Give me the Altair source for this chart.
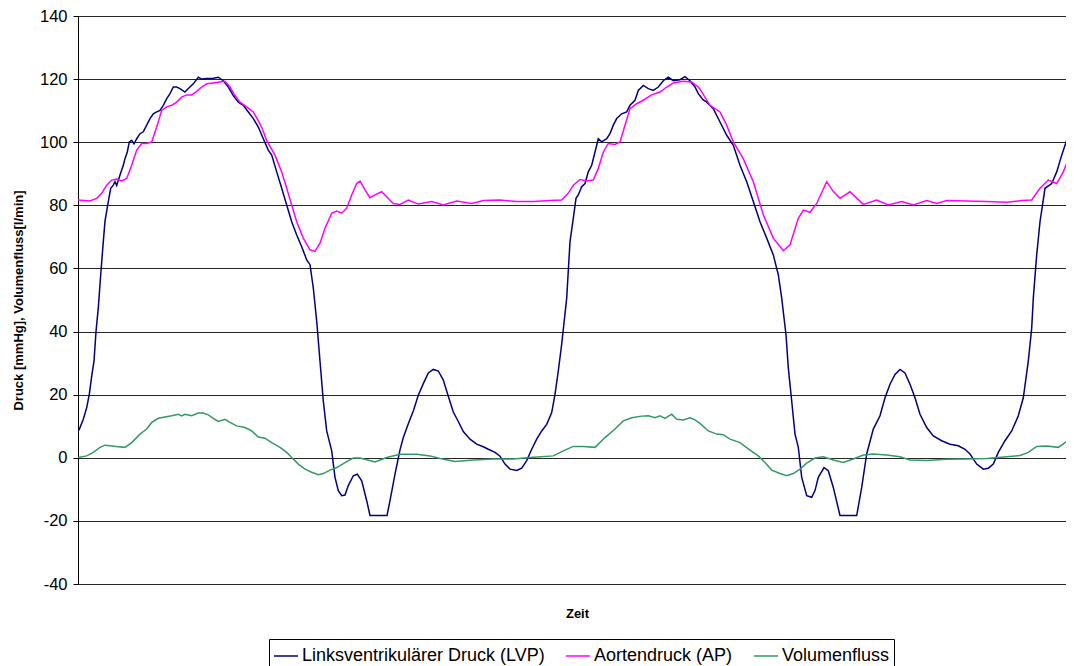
import altair as alt
import pandas as pd

# ---- data (sample index, value) ----
lvp_t = [78, 79.3, 83.3, 86.7, 89.3, 91.7, 94, 96, 98.3, 100.7, 103.3, 105, 108.3, 110.7, 113.3, 115, 116.7,
         120, 123.3, 125, 127.3, 129.3, 131.7, 134, 136.7, 140, 143.3, 146.7, 150, 153.3, 156.7, 160, 163.3,
         166.7, 170, 173.3, 176.7, 180, 185, 188.3, 193.3, 198.3, 201.7, 206.7, 213.3, 218.3, 223.3, 228.3,
         233.3, 238.3, 243.3, 248.3, 253.3, 258.3, 263.3, 268.3, 271.7, 276.7, 281.7, 286.7, 291.7, 296.7,
         301.7, 306.7, 310, 313.3, 316.7, 320, 323.3, 326.7, 331.7, 335, 338.3, 341.7, 345, 348.3, 353.3,
         357.3, 361.7, 366.7, 370, 387, 390, 395, 400, 403.3, 408.3, 413.3, 418.3, 423.3, 428.3, 433.3, 438.3,
         443.3, 448.3, 453.3, 458.3, 463.3, 470, 476.7, 483.3, 488.3, 495, 500, 505, 510, 516.7, 521.7, 526.7,
         531.7, 536.7, 541.7, 546.7, 551.7, 555, 558.3, 561.7, 566.7, 570, 573.3, 576, 578.3, 581.7, 585,
         588.3, 591.7, 595, 598.3, 601.7, 606.7, 610, 613.3, 616.7, 621.7, 626.7, 630, 635, 638.3, 643.3,
         648.3, 653.3, 658.3, 663.3, 668.3, 673.3, 680, 685, 690, 695, 698.3, 703, 706.7, 713.3, 720, 726.7,
         733.3, 740, 746.7, 753.3, 760, 766.7, 773.3, 778.3, 781.7, 786, 788.3, 791.7, 795, 798.3, 801.7,
         806.7, 811.7, 815, 818.3, 824, 828.3, 833.3, 840, 856.7, 861.7, 866.7, 873.3, 880, 885, 890, 895,
         900, 905, 910, 915, 920, 926.7, 933.3, 941.7, 950, 958.3, 965, 970, 976.7, 983.3, 988.3, 993.3,
         998.3, 1005, 1011.7, 1018.3, 1023.3, 1028.3, 1031.7, 1033.3, 1036.7, 1040, 1045, 1051.7, 1056.7,
         1061.7, 1066.7, 1071.7, 1074]
lvp_v = [8.5, 9.0, 12.2, 15.9, 20.1, 25.9, 30.6, 40, 47.5, 58, 68.5, 75, 81.2, 85.4, 86.4, 87.5, 86.3,
         89.6, 92.7, 94.8, 96.9, 100.1, 100.6, 99.5, 101.1, 102.7, 103.3, 105.4, 107.5, 109, 109.6, 110.1, 111.7,
         113.8, 115.4, 117.5, 117.5, 117, 115.9, 117, 118.5, 120.6, 120, 120.2, 120.3, 120.6, 119.5, 117.5,
         114.8, 112.7, 111.7, 109.6, 107.5, 104.8, 101.1, 97.5, 95.9, 90.6, 85.4, 80.1, 74.8, 70.6,
         66.9, 62.7, 61.2, 53.8, 43.3, 30.6, 18, 8.5, 2.2, -6.2, -10.4, -12, -11.8, -8.8, -5.7,
         -5.2, -7.3, -13.6, -18.3, -18.3, -13.6, -5.2, 2.5, 6.4, 10.8, 14.8, 19.8, 23.5, 26.9, 28, 27.5,
         24.6, 19.5, 14.5, 11.5, 8.3, 5.9, 4.3, 3.5, 2.7, 1.7, 0.5, -2, -3.6, -4, -3.3, -0.9,
         2.7, 5.9, 8.5, 10.6, 14.3, 20.1, 27.5, 36, 50.6, 68.5, 75.9, 82.2, 83.3, 85.9, 86.9,
         90.6, 92.7, 96.9, 101.1, 100.1, 101.1, 102.7, 105.4, 107.5, 109, 109.6, 111.7, 113.3, 116.4, 118,
         117, 116.4, 117.5, 119.5, 120.6, 119.5, 119.8, 120.8, 119.5, 117.5, 115.4, 113.5, 112.7, 110.6, 106.4, 102.2,
         99, 92.7, 87.5, 81.2, 74.8, 69.6, 64.3, 58, 50.6, 39, 28.5, 18, 7.5, 3.3, -6.2,
         -12, -12.5, -10.4, -6.2, -3.1, -4.1, -9.4, -18.3, -18.3, -9.4, 1.2, 9.1, 13.3, 19, 23.3, 26.4,
         28, 26.9, 23.3, 19, 13.8, 9.6, 6.9, 5.4, 4.3, 3.8, 2.7, 1.2, -2, -3.6, -3.3, -2,
         1.7, 5.4, 8.5, 13.3, 19, 30.6, 41.1, 50.6, 64.3, 74.8, 85.4, 86.9, 90.6,
         95.9, 100.6, 100.9, 101.1]

ap_t = [78, 90, 96.7, 101.7, 106.7, 111.7, 116.7, 121.7, 126.7, 131.7, 136.7, 141.7, 146.7, 151.7, 156.7,
        161.7, 166.7, 171.7, 176.7, 181.7, 186.7, 191.7, 196.7, 201.7, 206.7, 213.3, 220, 225, 230, 235, 240,
        246.7, 253.3, 258, 262, 266.7, 275, 281.7, 286.7, 291.7, 296.7, 303.3, 310, 315, 320, 325, 331.7,
        336.7, 341.7, 346.7, 351.7, 356.7, 360, 365, 370, 375, 381.7, 386.7, 393.3, 400, 408.3, 418.3, 431.7,
        443.3, 456.7, 471.7, 483.3, 500, 516.7, 533.3, 550, 561.7, 568.3, 573.3, 580, 586.7, 593.3, 598.3,
        603.3, 608.3, 615, 620, 625, 630, 636.7, 643.3, 651.7, 660, 666.7, 673.3, 683.3, 691.7, 698.3, 700,
        710, 720, 726.7, 733.3, 743.3, 753.3, 763.3, 773.3, 783.3, 790, 798.3, 803.3, 810, 816.7, 826.7,
        833, 840, 850, 863.3, 876.7, 888.3, 901.7, 913.3, 926.7, 936.7, 946.7, 966.7, 986.7, 1006.7, 1021.7,
        1031.7, 1040, 1048.3, 1056.7, 1063.3, 1070, 1074]
ap_v = [81.7, 81.4, 82.2, 83.8, 86.4, 88, 88.3, 87.7, 88.5, 92.7, 97.5, 99.6, 99.6, 100.1, 104.8,
        110.1, 111.2, 111.7, 112.7, 114.3, 115, 115, 116.1, 117.5, 118.5, 118.8, 119.1, 119.3, 117.5, 114.8, 112.7,
        111.2, 109.6, 107, 104.5, 100.5, 95.9, 90.6, 85.4, 80.1, 74.8, 69.6, 65.9, 65.4, 68, 72.7, 77.5,
        78.2, 77.5, 79.1, 83.3, 86.9, 87.7, 84.9, 82.4, 83.3, 84.3, 82.7, 80.6, 80.3, 81.7, 80.4, 81.2,
        80.1, 81.4, 80.6, 81.5, 81.7, 81.2, 81.2, 81.5, 81.7, 83.8, 86.4, 88.2, 87.7, 88, 91.7,
        96.9, 99.6, 99.3, 100.1, 105.4, 110.6, 112.2, 113.3, 115, 115.9, 117.5, 118.8, 119.3, 119.1, 117.5, 116.8,
        111.7, 109.6, 105.4, 100.1, 94.8, 87.5, 77, 69.6, 65.6, 67.5, 75.9, 78.5, 77.8, 80.6, 87.5,
        84.5, 82.2, 84.3, 80.3, 81.7, 80.1, 81.2, 80.1, 81.5, 80.6, 81.5, 81.4, 81.2, 81, 81.5,
        81.7, 85.4, 88, 86.9, 90.6, 95.9, 99]

flow_t = [78, 86.7, 93.3, 100, 105, 110, 118.3, 125, 131.7, 140, 146.7, 151.7, 158.3, 165, 171.7, 178.3,
          181.7, 185, 191.7, 198.3, 203.3, 208.3, 213.3, 218.3, 225, 230, 236.7, 245, 251.7, 258.3, 265,
          271.7, 280, 286.7, 291.7, 298.3, 305, 311.7, 318.3, 323.3, 330, 336.7, 346.7, 353.3, 360, 375,
          386.7, 400, 416.7, 430, 440, 455, 473.3, 493.3, 513.3, 530, 553.3, 563.3, 573.3, 583.3, 595, 605,
          615, 623.3, 631.7, 641.7, 648.3, 655, 660, 665, 671.7, 676.7, 683.3, 690, 695, 700, 708.3, 716.7,
          723.3, 730, 740, 750, 758.3, 765, 771.7, 780, 786.7, 793.3, 800, 806.7, 815, 823.3, 833.3, 843.3,
          853.3, 863.3, 873.3, 886.7, 900, 910, 926.7, 946.7, 966.7, 986.7, 1006.7, 1020, 1028.3, 1036.7,
          1046.7, 1058.3, 1065, 1074]
flow_v = [0.1, 0.6, 1.7, 3.3, 4, 3.8, 3.5, 3.3, 4.8, 7.5, 9.1, 11.2, 12.5, 12.9, 13.3, 13.8,
          13.3, 13.8, 13.3, 14.2, 14.2, 13.6, 12.5, 11.5, 12.2, 11.2, 10.1, 9.6, 8.5, 6.6, 6.2,
          4.8, 3.3, 1.7, 0.1, -2, -3.6, -4.6, -5.4, -5, -3.9, -3.1, -1.2, -0.1, -0.1, -1.3,
          0.1, 1.1, 1.1, 0.6, -0.2, -1.2, -0.7, -0.4, -0.4, 0.1, 0.6, 2.2, 3.6, 3.6, 3.3, 6.4,
          9.1, 11.7, 12.7, 13.2, 13.3, 12.7, 13.3, 12.5, 13.8, 12.2, 12, 12.7, 12, 10.9, 8.5, 7.5,
          7.3, 5.9, 4.8, 2.4, 0.6, -1.5, -3.9, -5, -5.7, -5, -3.6, -1.7, -0.1, 0.3, -0.7, -1.5,
          -0.4, 0.9, 1.2, 0.9, 0.3, -0.7, -0.9, -0.5, -0.4, -0.2, 0.3, 0.7, 1.7, 3.6,
          3.7, 3.3, 4.8, 6.9]

series_names = ["Linksventrikulärer Druck (LVP)", "Aortendruck (AP)", "Volumenfluss"]
series_colors = ["#000080", "#FF00FF", "#339966"]
y_ticks = [-40, -20, 0, 20, 40, 60, 80, 100, 120, 140]

rows = []
for name, ts, vs in zip(series_names, [lvp_t, ap_t, flow_t], [lvp_v, ap_v, flow_v]):
    for i, (t, v) in enumerate(zip(ts, vs)):
        rows.append({"t": t, "v": v, "series": name, "order": i})
df = pd.DataFrame(rows)

FONT = "Liberation Sans"

chart = alt.Chart(df).mark_line(strokeWidth=1.5, clip=True).encode(
    x=alt.X("t:Q", scale=alt.Scale(domain=[78, 1066], nice=False, zero=False),
            axis=alt.Axis(title="Zeit", labels=False, ticks=False, domain=False, grid=False,
                          titleFont=FONT, titleFontSize=13, titleFontWeight="bold", titleColor="black",
                          titleX=499, titleY=29, titleBaseline="middle")),
    y=alt.Y("v:Q", scale=alt.Scale(domain=[-40, 140], nice=False, zero=False),
            axis=alt.Axis(title="Druck [mmHg], Volumenfluss[l/min]", values=y_ticks,
                          labelExpr="'' + datum.value",
                          domain=True, domainColor="black", domainWidth=1,
                          ticks=True, tickColor="black", tickSize=5,
                          grid=True, gridColor="#262626", gridWidth=1,
                          labelFont=FONT, labelFontSize=16.5, labelColor="black", labelPadding=6,
                          titleFont=FONT, titleFontSize=13, titleFontWeight="bold", titleColor="black",
                          titleX=-60, titleY=284, titleAngle=270, titleBaseline="middle")),
    color=alt.Color("series:N", scale=alt.Scale(domain=series_names, range=series_colors),
                    legend=alt.Legend(title=None, orient="none", legendX=191, legendY=623,
                                      direction="horizontal", strokeColor="black", fillColor="white",
                                      padding=4, symbolType="stroke", symbolSize=576,
                                      symbolStrokeWidth=1.5, labelFont=FONT, labelFontSize=18,
                                      labelColor="black", labelOffset=3, columnPadding=18,
                                      labelLimit=0)),
    order="order:Q",
).properties(
    width=988, height=568,
    autosize=alt.AutoSizeParams(type="none"),
    padding={"left": 70, "top": 8, "right": 0, "bottom": 92},
).configure_view(stroke=None).configure(background="white")

chart.save("out.html", embed_options={"renderer": "svg", "actions": False})
